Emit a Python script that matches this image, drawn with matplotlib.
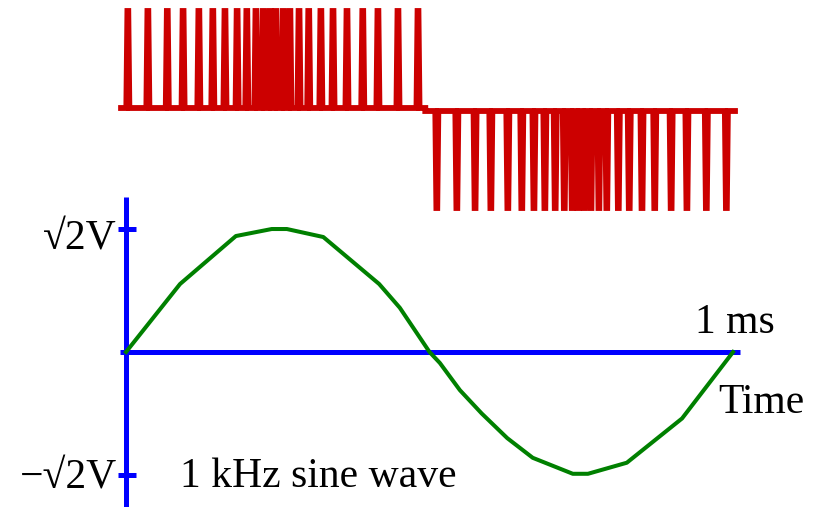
import numpy as np
import matplotlib
matplotlib.use("Agg")
import matplotlib.pyplot as plt

# 1 kHz sine wave (time in ms, amplitude in units of sqrt(2) V)
sine_t = [0.0, 0.089, 0.181, 0.240, 0.265, 0.325, 0.417, 0.451, 0.500,
          0.517, 0.550, 0.586, 0.628, 0.670, 0.736, 0.761, 0.825, 0.916, 1.0]
sine_v = [0.0, 0.553, 0.943, 1.0, 1.0, 0.935, 0.553, 0.36, 0.0,
          -0.089, -0.31, -0.50, -0.70, -0.86, -0.99, -0.99, -0.90, -0.54, 0.0]

# pulse times of the PDM stream (ms), positive half and negative half
pos_pulses = [0.003, 0.036, 0.068, 0.094, 0.120, 0.143, 0.163, 0.183, 0.199,
              0.214, 0.226, 0.237, 0.247, 0.259, 0.270, 0.285, 0.301, 0.321,
              0.341, 0.364, 0.390, 0.415, 0.448, 0.481]
neg_pulses = [0.512, 0.545, 0.575, 0.601, 0.629, 0.652, 0.672, 0.690, 0.707,
              0.722, 0.735, 0.745, 0.755, 0.766, 0.779, 0.792, 0.811, 0.829,
              0.850, 0.871, 0.898, 0.924, 0.956, 0.989]
pwm_start, pwm_mid, pwm_end = -0.013, 0.493, 1.008

tick_labels = ["\u221a2V", "\u2212\u221a2V"]

RED = "#cc0000"
BLUE = "#0000ff"
GREEN = "#008000"
FONT = ["Liberation Serif", "DejaVu Serif"]
XLIM = (-0.2076, 1.135)


def pulse_train(times, level, base, half_bot=0.0025, half_top=0.0007):
    # each pulse is a narrow trapezoid: wider at the base than at the top
    xs, ys = [], []
    for t in times:
        xs += [t - half_bot, t - half_top, t + half_top, t + half_bot]
        ys += [base, level, level, base]
    return xs, ys


fig = plt.figure(figsize=(8.15, 5.07), dpi=100)

# pulse stream on top
ax_p = fig.add_axes([0, 0, 1, 1])
ax_p.set_xlim(*XLIM)
ax_p.set_ylim(-3.99, 1.08)
ax_p.axis("off")
px, py = pulse_train(pos_pulses, 0.97, 0.0)
nx, ny = pulse_train(neg_pulses, -1.0, -0.03)
xs = [pwm_start] + px + [pwm_mid, pwm_mid] + nx + [pwm_end]
ys = [0.0] + py + [0.0, -0.03] + ny + [-0.03]
ax_p.plot(xs, ys, color=RED, lw=4.2, solid_joinstyle="miter",
          solid_capstyle="butt")

# sine wave with its axes
ax = fig.add_axes([0, 0, 1, 1])
ax.set_xlim(*XLIM)
ax.set_ylim(-1.26, 2.862)
ax.axis("off")
ax.patch.set_alpha(0)

ax.plot([-0.01, 1.012], [0, 0], color=BLUE, lw=3.6, solid_capstyle="butt")
ax.plot([0, 0], [-1.26, 1.26], color=BLUE, lw=3.6, solid_capstyle="butt")
for v in (1, -1):
    ax.plot([-0.013, 0.016], [v, v], color=BLUE, lw=3.6, solid_capstyle="butt")
ax.plot(sine_t, sine_v, color=GREEN, lw=2.9, solid_joinstyle="round")

fs = 30
ax.text(-0.015, 0.83, tick_labels[0], ha="right", va="baseline",
        fontsize=fs, family=FONT)
ax.text(-0.015, -1.106, tick_labels[1], ha="right", va="baseline",
        fontsize=fs, family=FONT)
ax.text(0.089, -1.10, "1 kHz sine wave", ha="left", va="baseline",
        fontsize=fs, family=FONT)
ax.text(1.003, 0.155, "1 ms", ha="center", va="baseline",
        fontsize=fs, family=FONT)
ax.text(0.975, -0.496, "Time", ha="left", va="baseline",
        fontsize=fs, family=FONT)

fig.savefig("out.png", dpi=100)
